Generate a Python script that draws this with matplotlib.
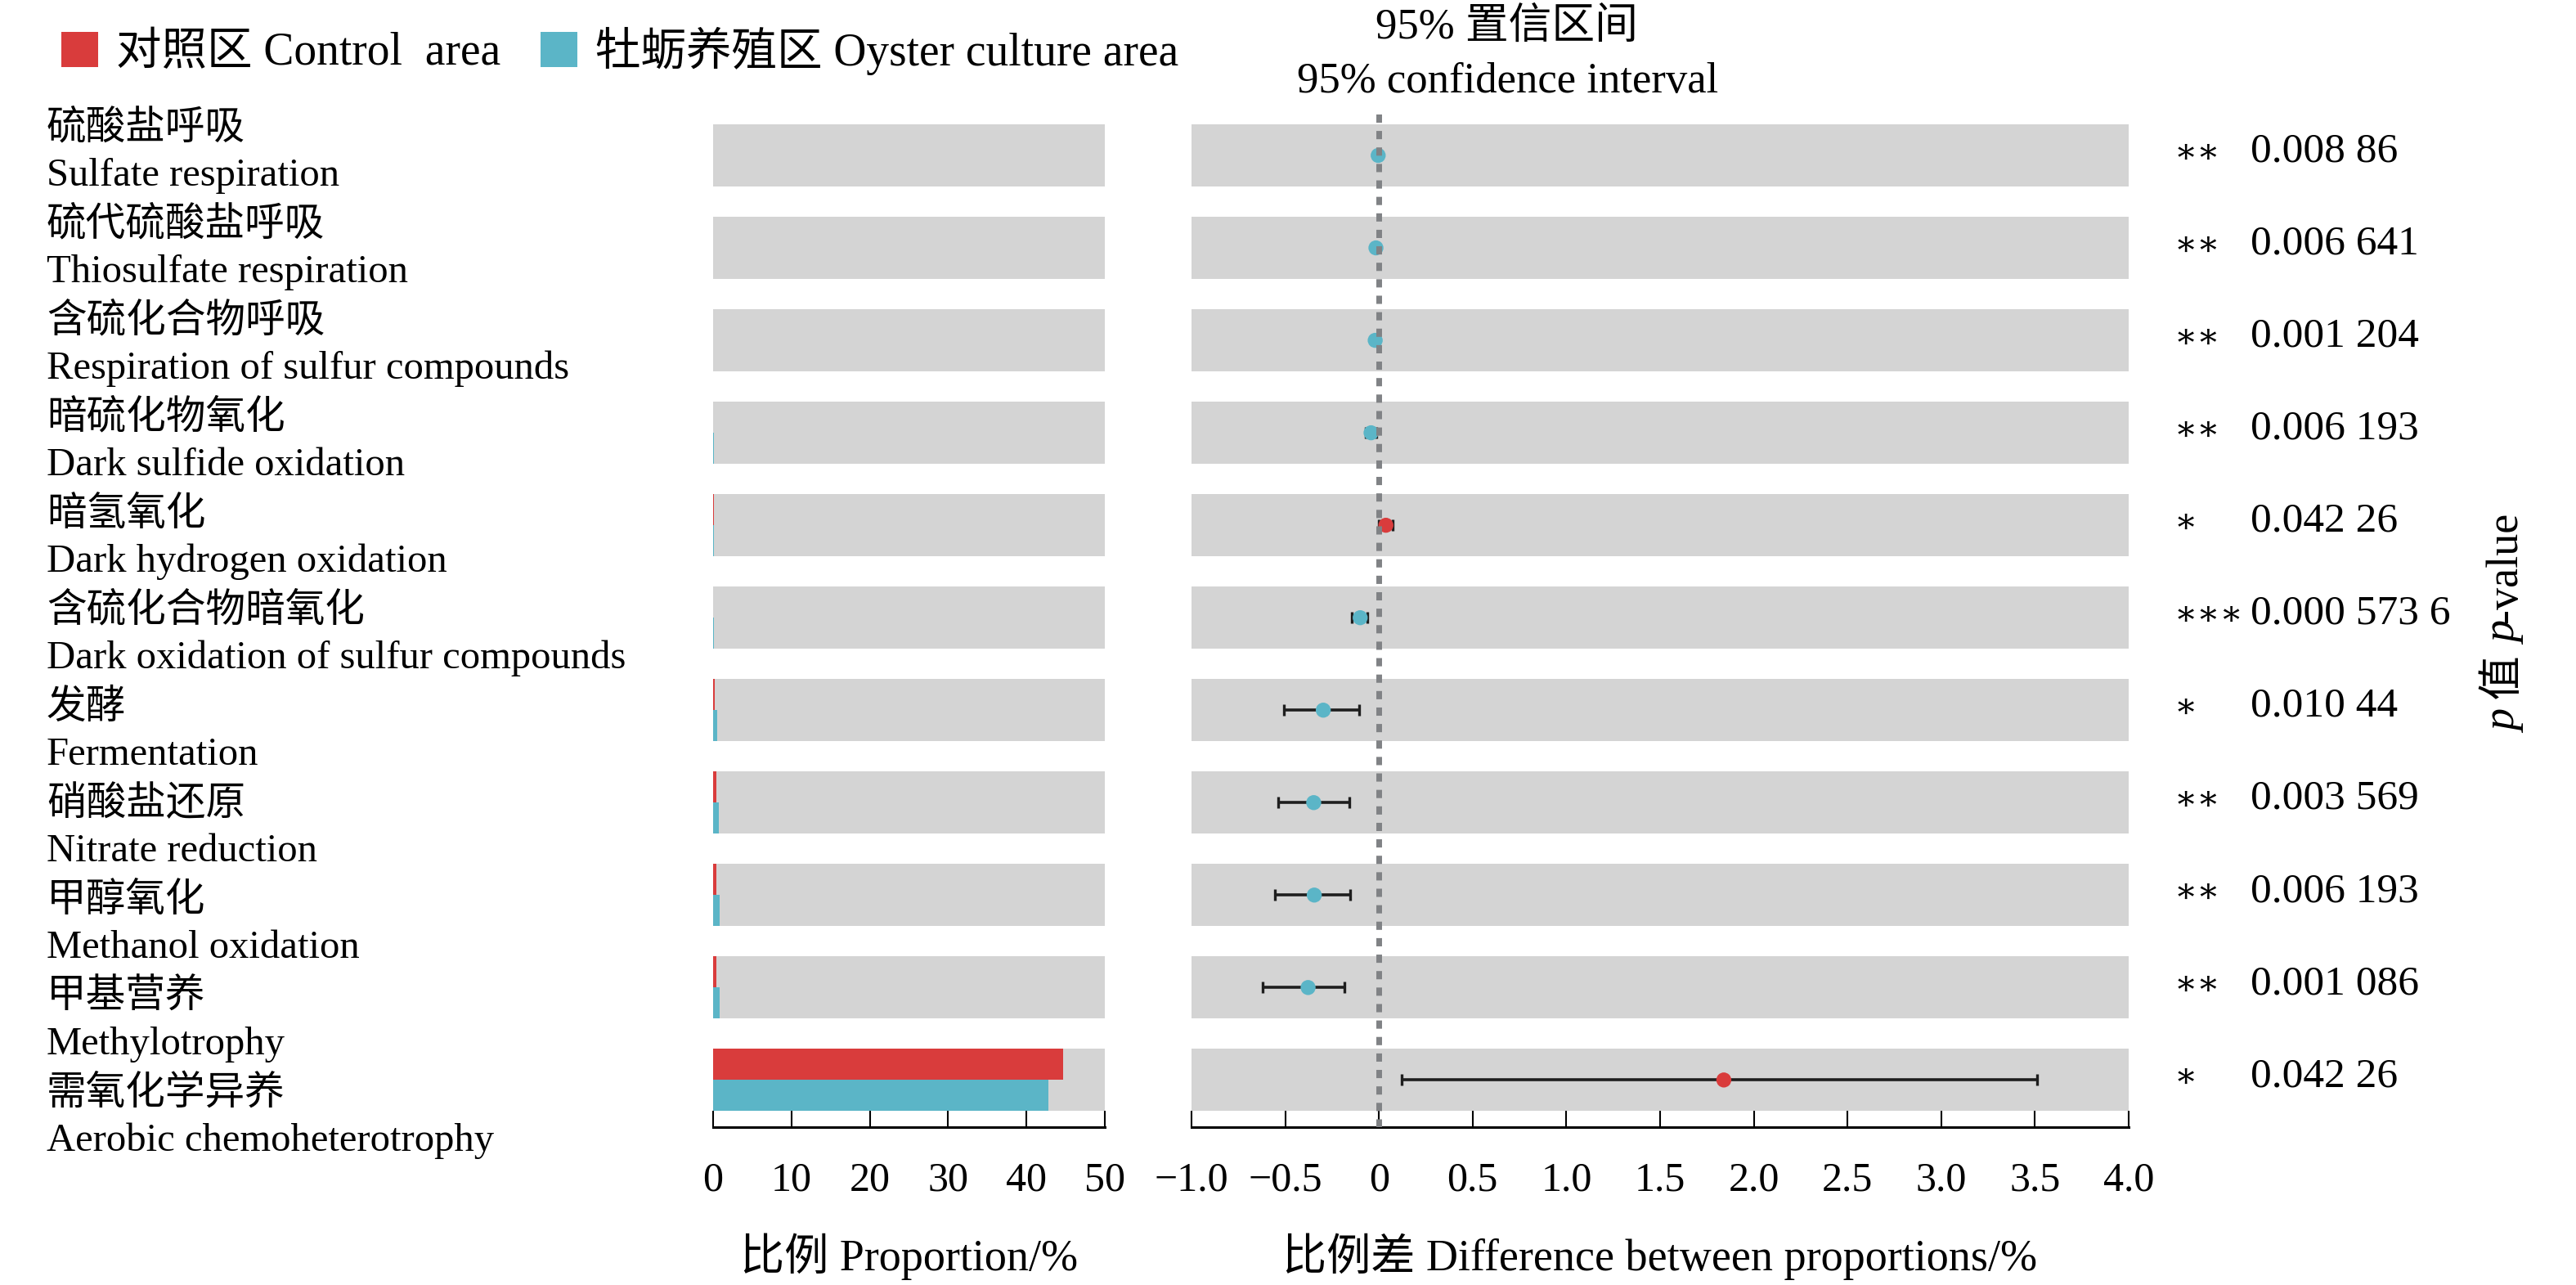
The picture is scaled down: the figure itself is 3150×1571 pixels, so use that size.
import numpy as np
import matplotlib
matplotlib.use('Agg')
import matplotlib.pyplot as plt
import matplotlib.transforms as mtransforms
from matplotlib.patches import Patch

plt.rcParams['font.family'] = ['Liberation Serif', 'Noto Sans CJK SC']

# data
labels_cn = ['硫酸盐呼吸', '硫代硫酸盐呼吸', '含硫化合物呼吸', '暗硫化物氧化', '暗氢氧化',
             '含硫化合物暗氧化', '发酵', '硝酸盐还原', '甲醇氧化', '甲基营养', '需氧化学异养']
labels_en = ['Sulfate respiration', 'Thiosulfate respiration', 'Respiration of sulfur compounds',
             'Dark sulfide oxidation', 'Dark hydrogen oxidation',
             'Dark oxidation of sulfur compounds', 'Fermentation', 'Nitrate reduction',
             'Methanol oxidation', 'Methylotrophy', 'Aerobic chemoheterotrophy']
control = [0.004, 0.006, 0.01, 0.02, 0.10, 0.05, 0.25, 0.40, 0.45, 0.45, 44.7]
oyster = [0.008, 0.022, 0.03, 0.062, 0.06, 0.15, 0.55, 0.75, 0.80, 0.83, 42.8]
diff = [-0.004, -0.016, -0.02, -0.042, 0.037, -0.10, -0.297, -0.348, -0.345, -0.378, 1.84]
ci_low = [-0.008, -0.026, -0.034, -0.07, 0.0, -0.145, -0.505, -0.538, -0.554, -0.62, 0.12]
ci_high = [-0.001, -0.006, -0.008, -0.012, 0.075, -0.06, -0.104, -0.16, -0.155, -0.183, 3.51]
stars = ['**', '**', '**', '**', '*', '***', '*', '**', '**', '**', '*']
pvals = ['0.008 86', '0.006 641', '0.001 204', '0.006 193', '0.042 26', '0.000 573 6',
         '0.010 44', '0.003 569', '0.006 193', '0.001 086', '0.042 26']

left_ticks = [0, 10, 20, 30, 40, 50]
left_ticklabels = ['0', '10', '20', '30', '40', '50']
right_ticks = [-1.0, -0.5, 0, 0.5, 1.0, 1.5, 2.0, 2.5, 3.0, 3.5, 4.0]
right_ticklabels = ['\u22121.0', '\u22120.5', '0', '0.5', '1.0', '1.5', '2.0', '2.5', '3.0', '3.5', '4.0']

RED = '#d93c3c'
BLUE = '#5bb5c7'
GRAY = '#d4d4d4'

W, H = 3150, 1571
fig = plt.figure(figsize=(W / 100, H / 100), dpi=100)

y = np.arange(len(labels_cn))
bh = 0.67
bottom = 1 - 1378 / H
height = (1378 - 133.5) / H
ax1 = fig.add_axes([872 / W, bottom, (1351 - 872) / W, height])
ax2 = fig.add_axes([1457 / W, bottom, (2603 - 1457) / W, height])

# left: proportions
ax1.barh(y, 50, left=0, height=bh, color=GRAY, zorder=0)
ax1.barh(y - bh / 4, control, height=bh / 2, color=RED, zorder=1)
ax1.barh(y + bh / 4, oyster, height=bh / 2, color=BLUE, zorder=1)
ax1.set_xlim(0, 50)

# right: difference with 95% CI
diff_a = np.array(diff)
ax2.barh(y, 5, left=-1, height=bh, color=GRAY, zorder=0)
ax2.errorbar(diff_a, y, xerr=[diff_a - np.array(ci_low), np.array(ci_high) - diff_a],
             fmt='none', ecolor='#1e1e1e', elinewidth=2.6, capsize=4.7, capthick=2.4, zorder=2)
pt_colors = [RED if d > 0 else BLUE for d in diff]
ax2.scatter(diff_a, y, s=175, c=pt_colors, edgecolors='none', zorder=3)
ax2.axvline(0, color='#808285', lw=5, dashes=(1.45, 1.45), zorder=4)
ax2.set_xlim(-1, 4)

for ax, ticks, tl in [(ax1, left_ticks, left_ticklabels), (ax2, right_ticks, right_ticklabels)]:
    ax.set_ylim(10.51, -0.5)
    ax.set_yticks([])
    for s in ['top', 'left', 'right']:
        ax.spines[s].set_visible(False)
    ax.spines['bottom'].set_linewidth(2.2)
    ax.set_xticks(ticks)
    ax.set_xticklabels(tl, fontsize=36)
    ax.tick_params(axis='x', direction='in', length=14.4, width=1.5, pad=30)
    ax.set_facecolor('none')

ax1.set_xlabel('比例 Proportion/%', fontsize=39, labelpad=30)
ax2.set_xlabel('比例差 Difference between proportions/%', fontsize=39, labelpad=30)

# row labels
for k in range(len(labels_cn)):
    fig.text(57 / W, 1 - (157 + 118.0 * k) / H, labels_cn[k], fontsize=35, ha='left', va='center')
    fig.text(57 / W, 1 - (227 + 118.0 * k) / H, labels_en[k], fontsize=35, ha='left', va='baseline')

# significance and p-values
tr = mtransforms.blended_transform_factory(fig.transFigure, ax2.transData)
for k in range(len(pvals)):
    ax2.text(2659 / W, y[k] - 0.03, stars[k].replace('*', '\u2217'), transform=tr, fontsize=30,
             ha='left', va='center', family=['DejaVu Serif'], clip_on=False)
    ax2.text(2752 / W, y[k] - 0.04, pvals[k], transform=tr, fontsize=37,
             ha='left', va='center', clip_on=False)

# rotated p-value label
t1 = fig.text(3064 / W, 1 - 896 / H, 'p', fontsize=39, style='italic', rotation=90,
              ha='center', va='bottom')
t2 = ax2.annotate(' 值 ', xy=(0.5, 1), xycoords=t1, fontsize=39, rotation=90,
                  ha='center', va='bottom', annotation_clip=False)
t3 = ax2.annotate('p', xy=(0.5, 1), xycoords=t2, fontsize=39, style='italic', rotation=90,
                  ha='center', va='bottom', annotation_clip=False)
ax2.annotate('-value', xy=(0.5, 1), xycoords=t3, fontsize=39, rotation=90,
             ha='center', va='bottom', annotation_clip=False)

# title over CI panel
fig.text(1842 / W, 1 - 47 / H, '95% 置信区间', fontsize=38, ha='center', va='baseline')
fig.text(1844 / W, 1 - 113 / H, '95% confidence interval', fontsize=38, ha='center', va='baseline')

# legend
handles = [Patch(facecolor=RED, edgecolor='none', label='对照区 Control  area'),
           Patch(facecolor=BLUE, edgecolor='none', label='牡蛎养殖区 Oyster culture area')]
fig.legend(handles=handles, loc='center left', bbox_to_anchor=(75 / W, 1 - 62 / H),
           ncol=2, frameon=False, fontsize=40, borderpad=0, borderaxespad=0,
           handlelength=0.81, handleheight=0.81, handletextpad=0.4, columnspacing=0.87)

fig.savefig('out.png', dpi=100)
